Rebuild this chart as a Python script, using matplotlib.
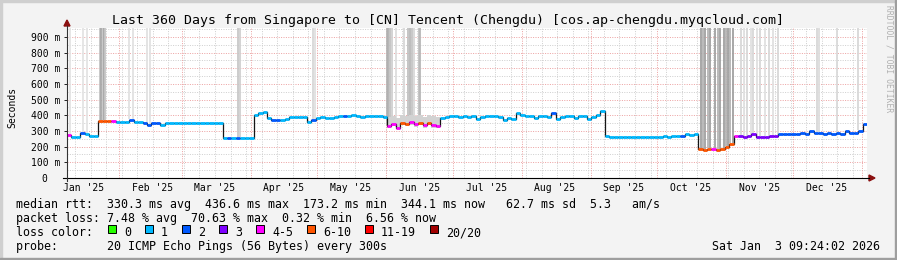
import datetime as dt
import numpy as np
import matplotlib
matplotlib.use("Agg")
import matplotlib.pyplot as plt
from matplotlib.lines import Line2D
from matplotlib.patches import Polygon, Rectangle

START = dt.datetime(2025, 1, 8, 9, 24, 2)
END = dt.datetime(2026, 1, 3, 9, 24, 2)
BIN_DAYS = 2

# median rtt in ms, one value per 2-day bin from START
median = [
    272, 264, 262, 285, 280, 265, 268,
    364, 362, 363, 361, 360, 359, 360, 372, 358, 358,
    350, 340, 352, 350, 340, 352,
    352, 350, 351, 349, 350, 348, 350, 349, 349, 350, 349, 349,
    254, 255, 254, 256, 255, 253, 254,
    400, 415, 420, 380, 370, 372, 370, 378,
    386, 387, 388, 386,
    358, 370,
    385, 386, 384, 380,
    392, 395, 398, 393, 400, 394, 392, 396, 395, 394, 396, 390,
    330, 345, 320, 350, 345, 355, 345, 350, 340, 352, 338, 330,
    385, 388, 393, 395, 392, 394, 390, 395, 378, 392, 395, 393, 394,
    388, 372, 380, 375, 412, 400, 395, 396, 385, 393, 395, 392, 412,
    375, 392, 395, 394, 380, 393, 396, 378, 392, 400, 425,
    265, 262, 260, 260, 259, 260, 261, 260, 262, 260, 262, 264, 263,
    265, 264, 266, 267, 270, 280, 275, 278,
    182, 180, 183, 185, 180, 182, 195, 215,
    268, 265, 262, 265, 280, 263, 264, 262, 265, 266,
    279, 282, 283, 282, 283, 284, 282, 300, 290, 285,
    282, 284, 283, 285, 282, 300, 288, 290, 300, 344,
]

# loss bucket per bin (index into loss_labels)
loss = [
    4, 1, 1, 2, 1, 1, 1,
    5, 5, 5, 4, 1, 1, 1, 2, 1, 1,
    2, 2, 2, 2, 1, 1,
    1, 1, 1, 1, 1, 1, 1, 1, 1, 1, 1, 1,
    1, 2, 1, 2, 1, 1, 1,
    1, 1, 1, 1, 2, 2, 1, 1,
    1, 1, 1, 1,
    1, 2,
    1, 1, 1, 1,
    1, 1, 2, 1, 1, 1, 1, 1, 1, 1, 1, 1,
    4, 4, 4, 5, 5, 4, 4, 5, 4, 5, 4, 4,
    1, 1, 1, 1, 1, 1, 1, 1, 1, 1, 1, 1, 1,
    1, 1, 1, 1, 1, 1, 1, 1, 1, 1, 1, 1, 2,
    1, 1, 1, 1, 1, 1, 1, 1, 1, 1, 1,
    1, 1, 1, 1, 1, 1, 1, 1, 1, 1, 1, 1, 1,
    1, 1, 1, 1, 2, 1, 1, 1,
    5, 5, 5, 4, 5, 5, 5, 5,
    4, 3, 3, 3, 3, 3, 3, 3, 3, 3,
    2, 2, 2, 2, 2, 2, 2, 2, 2, 2,
    2, 2, 2, 2, 2, 2, 2, 2, 2, 2,
]

loss_labels = ["0", "1", "2", "3", "4-5", "6-10", "11-19", "20/20"]
loss_colors = ["#26ff00", "#00b8ff", "#0059ff", "#7e00ff",
               "#ff00ff", "#ff5500", "#ff0000", "#a10000"]

# smoke reaching the top of the graph (day offset from START, grey shade)
spike_days = [1.5, 7.0, 9.0, 15.0, 15.5, 16.0, 16.6, 17.2, 28.0, 29.5, 36.0, 37.5,
              77.0, 77.8, 110.9, 111.6,
              144.0, 144.6, 145.3, 146.2, 148.0, 151.5, 153.5, 154.4, 155.3, 156.2, 158.3, 159.0,
              285.3, 286.1, 287.1, 288.3, 289.4, 291.6, 292.8, 293.9, 295.8, 296.6, 297.3, 298.3, 299.8,
              303.3, 304.8, 305.9, 307.8, 308.8, 310.4, 311.9, 314.1, 315.9, 317.9, 319.8,
              337.5, 338.5, 346.5, 356.0]
spike_shades = ["#e4e4e4", "#e4e4e4", "#e4e4e4", "#c4c4c4", "#a8a8a8", "#c4c4c4", "#a8a8a8", "#c4c4c4",
                "#e2e2e2", "#e2e2e2", "#e2e2e2", "#e2e2e2",
                "#c8c8c8", "#d0d0d0", "#d8d8d8", "#e0e0e0",
                "#b8b8b8", "#b0b0b0", "#c0c0c0", "#d0d0d0", "#dddddd", "#d8d8d8", "#c0c0c0", "#b8b8b8",
                "#c4c4c4", "#d8d8d8", "#c0c0c0", "#b8b8b8",
                "#a0a0a0", "#b4b4b4", "#a0a0a0", "#b4b4b4", "#a0a0a0", "#a0a0a0", "#b4b4b4", "#a0a0a0",
                "#a0a0a0", "#b4b4b4", "#a0a0a0", "#b4b4b4", "#a0a0a0",
                "#d8d8d8", "#e0e0e0", "#d8d8d8", "#e0e0e0", "#d8d8d8", "#e0e0e0", "#d8d8d8", "#e0e0e0",
                "#d8d8d8", "#e0e0e0", "#d8d8d8",
                "#d8d8d8", "#dcdcdc", "#dadada", "#d8d8d8"]

# June smoke band around the median
band_first_bin = 72
band_lo = [318, 330, 310, 335, 330, 340, 328, 335, 322, 336, 322, 318]
band_hi = [392, 398, 385, 402, 395, 405, 396, 400, 390, 402, 394, 388]

title = "Last 360 Days from Singapore to [CN] Tencent (Chengdu) [cos.ap-chengdu.myqcloud.com]"
line_rtt = "median rtt:  330.3 ms avg  436.6 ms max  173.2 ms min  344.1 ms now   62.7 ms sd  5.3   am/s"
line_loss = "packet loss: 7.48 % avg  70.63 % max  0.32 % min  6.56 % now"
line_probe = "probe:       20 ICMP Echo Pings (56 Bytes) every 300s"
stamp = "Sat Jan  3 09:24:02 2026"

MONO = "DejaVu Sans Mono"
W, H = 897, 260
RED_GRID = "#eda4a4"
GREY_GRID = "#d0d0d0"


def fx(x):
    return x / W


def fy(y):
    return 1 - y / H


def day(d):
    return (d - START).total_seconds() / 86400


fig = plt.figure(figsize=(W / 100, H / 100), dpi=100, facecolor="#f3f3f3")
ax = fig.add_axes([fx(67), fy(178), 800 / W, 150 / H])
ax.set_facecolor("white")
for s in ax.spines.values():
    s.set_visible(False)
span = day(END)
ax.set_xlim(0, span)
ax.set_ylim(0, 957)

# grid
for v in range(50, 957, 50):
    ax.axhline(v, color=RED_GRID if v % 100 == 0 else GREY_GRID, lw=0.72,
               dashes=(1, 1.4), zorder=0.5)
sunday = dt.datetime(2025, 1, 12)
while sunday < END:
    ax.axvline(day(sunday), color=GREY_GRID, lw=0.72, dashes=(1, 1.4), zorder=0.5)
    sunday += dt.timedelta(days=7)
for y, m in [(2025, m) for m in range(2, 13)] + [(2026, 1)]:
    ax.axvline(day(dt.datetime(y, m, 1)), color=RED_GRID, lw=0.72, dashes=(1, 1.4), zorder=0.6)

median = np.array(median, dtype=float)
edges = np.arange(len(median) + 1) * BIN_DAYS
edges[-1] = min(edges[-1], span)

# smoke
base = median[(np.array(spike_days) // BIN_DAYS).astype(int)] + 6
ax.vlines(spike_days, base, 957, colors=spike_shades, lw=1.3, zorder=1)
band_edges = edges[band_first_bin:band_first_bin + len(band_lo) + 1]
ax.stairs(band_hi, band_edges, baseline=band_lo, fill=True, color="#d2d2d2", zorder=1.1)

# median line + loss colours
ax.stairs(median, edges, baseline=None, color="#151515", lw=0.9, zorder=2)
ax.hlines(median, edges[:-1], edges[1:], colors=[loss_colors[k] for k in loss],
          lw=2.0, zorder=3)

# ticks
ax.set_yticks(range(0, 901, 100))
ax.set_yticklabels(["0  "] + [f"{v} m" for v in range(100, 901, 100)])
ax.tick_params(axis="y", length=2, width=0.6, pad=3, labelsize=7, colors="#000000")
month_mid = [dt.datetime(2025, m, 16) for m in range(1, 13)]
ax.set_xticks([day(d) for d in month_mid])
ax.set_xticklabels([d.strftime("%b '%y") for d in month_mid])
ax.tick_params(axis="x", length=0, pad=3.5, labelsize=7)
for lab in ax.get_xticklabels() + ax.get_yticklabels():
    lab.set_family(MONO)

# axes with arrows
fig.add_artist(Line2D([fx(63), fx(869)], [fy(178), fy(178)], color="black", lw=0.8))
fig.add_artist(Polygon([[fx(869), fy(175)], [fx(875), fy(178)], [fx(869), fy(181)]],
                       closed=True, color="#8b1010", transform=fig.transFigure))
fig.add_artist(Line2D([fx(67), fx(67)], [fy(181), fy(26)], color="#333333", lw=0.8))
fig.add_artist(Polygon([[fx(64), fy(26)], [fx(67), fy(20)], [fx(70), fy(26)]],
                       closed=True, color="#8b1010", transform=fig.transFigure))

fig.text(fx(448), fy(24), title, ha="center", va="baseline", fontsize=9.55, family=MONO)
fig.text(fx(12), fy(107), "Seconds", rotation=90, ha="center", va="center",
         fontsize=7, family=MONO)
fig.text(fx(889), fy(5), "RRDTOOL / TOBI OETIKER", rotation=270, ha="center", va="top",
         fontsize=5.8, color="#b0b0b0", family=MONO)

fig.text(fx(16), fy(208), line_rtt, ha="left", va="baseline", fontsize=8.4, family=MONO)
fig.text(fx(16), fy(222), line_loss, ha="left", va="baseline", fontsize=8.4, family=MONO)
fig.text(fx(16), fy(236), "loss color:", ha="left", va="baseline", fontsize=8.4, family=MONO)
legend_x = [124, 161, 198, 235, 272, 323, 381, 446]
for lx, lab, col in zip(legend_x, loss_labels, loss_colors):
    fig.add_artist(Rectangle((fx(lx - 16), fy(233)), 8 / W, 8 / H, facecolor=col,
                             edgecolor="black", lw=0.7, transform=fig.transFigure))
    fig.text(fx(lx), fy(236), lab, ha="left", va="baseline", fontsize=8.4, family=MONO)
fig.text(fx(16), fy(250), line_probe, ha="left", va="baseline", fontsize=8.4, family=MONO)
fig.text(fx(880), fy(250), stamp, ha="right", va="baseline", fontsize=8.4, family=MONO)

# frame
fig.add_artist(Rectangle((0, 1 - 2 / H), 1, 2 / H, color="#cfcfcf", transform=fig.transFigure))
fig.add_artist(Rectangle((0, 0), 2 / W, 1, color="#cfcfcf", transform=fig.transFigure))
fig.add_artist(Rectangle((0, 0), 1, 2 / H, color="#9e9e9e", transform=fig.transFigure))
fig.add_artist(Rectangle((1 - 2 / W, 0), 2 / W, 1, color="#9e9e9e", transform=fig.transFigure))

fig.savefig("out.png", dpi=100, facecolor=fig.get_facecolor())
